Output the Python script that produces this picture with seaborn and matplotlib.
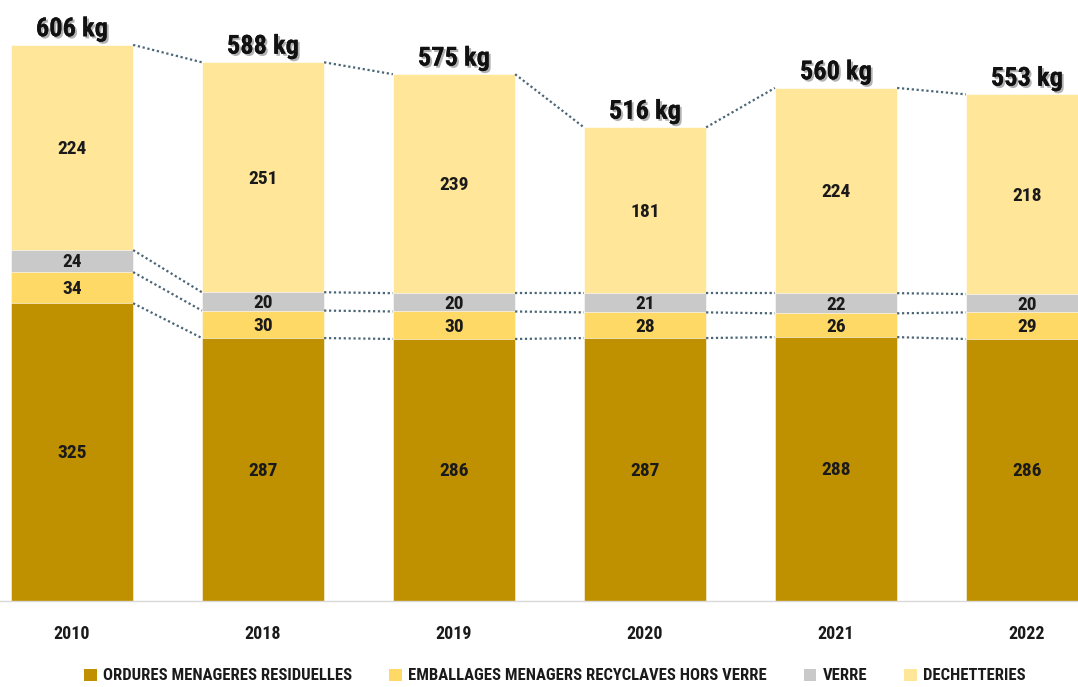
import matplotlib
matplotlib.use("Agg")
import matplotlib.pyplot as plt
import matplotlib.font_manager as fm
import matplotlib.patheffects as pe
from matplotlib.patches import Patch
import seaborn as sns
import pandas as pd
import numpy as np

# ---- data ----
years = ["2010", "2018", "2019", "2020", "2021", "2022"]
ordures = [325, 287, 286, 287, 288, 286]
emballages = [34, 30, 30, 28, 26, 29]
verre = [24, 20, 20, 21, 22, 20]
dechetteries = [224, 251, 239, 181, 224, 218]
totals = [606, 588, 575, 516, 560, 553]
series_names = ["ORDURES MENAGERES RESIDUELLES",
                "EMBALLAGES MENAGERS RECYCLAVES HORS VERRE",
                "VERRE", "DECHETTERIES"]
colors = ["#BF9000", "#FFD966", "#C9C9C9", "#FFE699"]

sns.set_theme(style="white")

# pick a condensed bold font if available
def pick_font():
    prefs = ["RobotoCondensed-Bold", "LiberationSansNarrow-Bold", "DejaVuSansCondensed-Bold",
             "OpenSans-CondBold", "OpenSans_Condensed-Bold"]
    files = [f.fname for f in fm.fontManager.ttflist]
    for p in prefs:
        for f in files:
            base = f.split("/")[-1]
            if base.lower().startswith(p.lower()) and "italic" not in base.lower():
                return fm.FontProperties(fname=f)
    return fm.FontProperties(family="DejaVu Sans", weight="bold", stretch="condensed")

fp = pick_font()
def F(size):
    p = fp.copy()
    p.set_size(size)
    return p

df = pd.DataFrame({"year": years, "o": ordures, "e": emballages, "v": verre, "d": dechetteries})
cum1 = np.array(ordures)
cum2 = cum1 + np.array(emballages)
cum3 = cum2 + np.array(verre)
cum4 = cum3 + np.array(dechetteries)
df["c1"], df["c2"], df["c3"], df["c4"] = cum1, cum2, cum3, cum4

fig = plt.figure(figsize=(10.78, 6.87), dpi=100)
ax = fig.add_axes([0, 0.1252, 1, 0.8748])

W = 0.64
for col, c in zip(["c4", "c3", "c2", "c1"], colors[::-1]):
    sns.barplot(data=df, x="year", y=col, color=c, width=W, ax=ax,
                saturation=1, edgecolor="white", linewidth=0.4, errorbar=None)

ax.set_xlim(-72 / 191, (1078 - 72) / 191)
ax.set_ylim(0, 656)

# segment labels
segs = [ordures, emballages, verre, dechetteries]
bottoms = [np.zeros(6), cum1, cum2, cum3]
for s, b in zip(segs, bottoms):
    for i in range(6):
        ax.text(i, b[i] + s[i] / 2 - 1.5, str(s[i]), ha="center", va="center",
                fontproperties=F(14), color="#1a1a1a")

# totals with shadow
for i in range(6):
    ax.text(i, cum4[i] + 17, f"{totals[i]} kg", ha="center", va="center",
            fontproperties=F(19), color="#111111",
            path_effects=[pe.withSimplePatchShadow(offset=(1.5, -1.5), shadow_rgbFace="#555555", alpha=0.45),
                          pe.Normal()])

# dotted connectors
for level in [cum1, cum2, cum3, cum4]:
    for i in range(5):
        ax.plot([i + W / 2, i + 1 - W / 2], [level[i], level[i + 1]],
                linestyle=(0, (1, 1.2)), color="#4A6576", linewidth=1.6)

sns.despine(ax=ax, left=True, top=True, right=True)
ax.spines["bottom"].set_color("#D9D9D9")
ax.spines["bottom"].set_linewidth(1)
ax.set_yticks([])
ax.set_xlabel("")
ax.set_ylabel("")
ax.tick_params(axis="x", length=0, pad=17)
for lab in ax.get_xticklabels():
    lab.set_fontproperties(F(13))
    lab.set_color("#1a1a1a")

handles = [Patch(facecolor=c, edgecolor="none") for c in colors]
fig.legend(handles, series_names, loc="center", bbox_to_anchor=(0.515, 1 - 676 / 687),
           ncol=4, frameon=False, prop=F(12), handlelength=0.75, handleheight=0.75,
           handletextpad=0.4, columnspacing=2.2, labelcolor="#1a1a1a")

fig.savefig("out.png", dpi=100)
